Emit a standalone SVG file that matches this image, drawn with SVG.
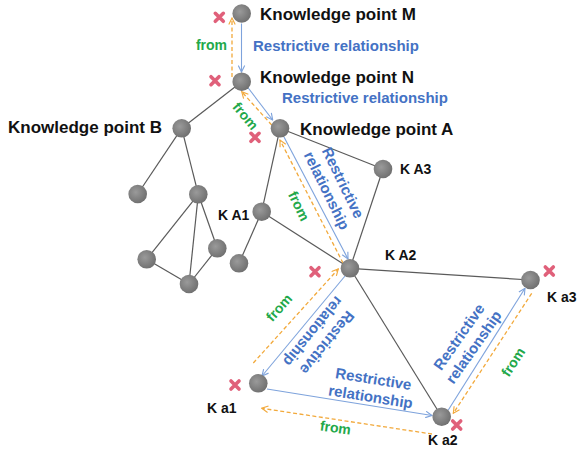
<svg xmlns="http://www.w3.org/2000/svg" width="581" height="450" viewBox="0 0 581 450">
<defs>
<radialGradient id="g" cx="0.4" cy="0.4" r="0.65">
<stop offset="0" stop-color="#9a9a9a"/>
<stop offset="1" stop-color="#6e6e6e"/>
</radialGradient>
<marker id="ab" viewBox="0 0 10 10" refX="9" refY="5" markerWidth="8" markerHeight="8" markerUnits="userSpaceOnUse" orient="auto">
<path d="M1,1 L9,5 L1,9" fill="none" stroke="#7ea3dc" stroke-width="1.4"/>
</marker>
<marker id="ao" viewBox="0 0 10 10" refX="9" refY="5" markerWidth="8" markerHeight="8" markerUnits="userSpaceOnUse" orient="auto">
<path d="M1,1 L9,5 L1,9" fill="none" stroke="#f2a93b" stroke-width="1.4"/>
</marker>
<g id="x">
<path d="M-4,-4 L4,4 M4,-4 L-4,4" stroke="#e0607a" stroke-width="3.6" stroke-linecap="round"/>
</g>
</defs>
<style>
.e{stroke:#5a5a5a;stroke-width:1.2;fill:none}
.b{stroke:#7ea3dc;stroke-width:1.1;fill:none;marker-end:url(#ab)}
.o{stroke:#f2a93b;stroke-width:1.3;fill:none;stroke-dasharray:4 2.5;marker-end:url(#ao)}
.n{fill:url(#g)}
.k{font-family:"Liberation Sans",Arial,sans-serif;font-weight:bold;font-size:17px;fill:#111}
.s{font-family:"Liberation Sans",Arial,sans-serif;font-weight:bold;font-size:14px;fill:#111}
.r{font-family:"Liberation Sans",Arial,sans-serif;font-weight:bold;font-size:15px;fill:#4472c4}
.f{font-family:"Liberation Sans",Arial,sans-serif;font-weight:bold;font-size:14px;fill:#22a84a}
</style>
<rect width="581" height="450" fill="#fff"/>
<g id="connectors">
<line class="e" x1="241.7" y1="81.7" x2="181.7" y2="128.3"/>
<line class="e" x1="181.7" y1="128.3" x2="137.7" y2="194"/>
<line class="e" x1="181.7" y1="128.3" x2="198.3" y2="194.3"/>
<line class="e" x1="198.3" y1="194.3" x2="146.7" y2="259.3"/>
<line class="e" x1="198.3" y1="194.3" x2="189" y2="284"/>
<line class="e" x1="198.3" y1="194.3" x2="217.3" y2="248.3"/>
<line class="e" x1="146.7" y1="259.3" x2="189" y2="284"/>
<line class="e" x1="217.3" y1="248.3" x2="189" y2="284"/>
<line class="e" x1="280" y1="128.3" x2="261.7" y2="211.7"/>
<line class="e" x1="261.7" y1="211.7" x2="239" y2="263.3"/>
<line class="e" x1="280" y1="128.3" x2="383" y2="169"/>
<line class="e" x1="383" y1="169" x2="350" y2="268.3"/>
<line class="e" x1="261.7" y1="211.7" x2="350" y2="268.3"/>
<line class="e" x1="350" y1="268.3" x2="530.5" y2="280"/>
<line class="e" x1="350" y1="268.3" x2="441.7" y2="416.7"/>
<line class="b" x1="241.5" y1="23.5" x2="241.5" y2="72"/>
<line class="o" x1="232" y1="77" x2="232" y2="18"/>
<line class="b" x1="246.7" y1="86" x2="272.7" y2="120"/>
<line class="o" x1="271.7" y1="125" x2="241.7" y2="91.7"/>
<line class="b" x1="284" y1="137" x2="348" y2="259"/>
<line class="o" x1="343" y1="263" x2="280" y2="140"/>
<line class="b" x1="345" y1="276" x2="262" y2="376"/>
<line class="o" x1="253.3" y1="363" x2="338.3" y2="269"/>
<line class="b" x1="267" y1="389" x2="432" y2="415.5"/>
<line class="o" x1="432" y1="434" x2="261.7" y2="408.3"/>
<line class="b" x1="448.3" y1="410" x2="525" y2="288.3"/>
<line class="o" x1="531.7" y1="293.3" x2="453.3" y2="413.3"/>
</g>
<g id="nodeM"><circle class="n" cx="241.7" cy="13.5" r="9.3"/><text class="k" x="260" y="19.5">Knowledge point M</text></g>
<g id="nodeN"><circle class="n" cx="241.7" cy="81.7" r="9.3"/><text class="k" x="260" y="83">Knowledge point N</text></g>
<g id="nodeA"><circle class="n" cx="280" cy="128.3" r="9.3"/><text class="k" x="300" y="134.5">Knowledge point A</text></g>
<g id="nodeB"><circle class="n" cx="181.7" cy="128.3" r="9.3"/><text class="k" x="8" y="133">Knowledge point B</text></g>
<g id="nodeB1"><circle class="n" cx="137.7" cy="194" r="9.3"/></g>
<g id="nodeB2"><circle class="n" cx="198.3" cy="194.3" r="9.3"/></g>
<g id="nodeB3"><circle class="n" cx="146.7" cy="259.3" r="9.3"/></g>
<g id="nodeB4"><circle class="n" cx="217.3" cy="248.3" r="9.3"/></g>
<g id="nodeB5"><circle class="n" cx="189" cy="284" r="9.3"/></g>
<g id="nodeA1"><circle class="n" cx="261.7" cy="211.7" r="9.3"/><text class="s" x="218" y="220">K A1</text></g>
<g id="nodeA1c"><circle class="n" cx="239" cy="263.3" r="9.3"/></g>
<g id="nodeA3"><circle class="n" cx="383" cy="169" r="9.3"/><text class="s" x="400" y="174">K A3</text></g>
<g id="nodeA2"><circle class="n" cx="350" cy="268.3" r="9.3"/><text class="s" x="385" y="260">K A2</text></g>
<g id="nodea3"><circle class="n" cx="530.5" cy="280" r="9.3"/><text class="s" x="547" y="302">K a3</text></g>
<g id="nodea1"><circle class="n" cx="258.3" cy="383.3" r="9.3"/><text class="s" x="207" y="413">K a1</text></g>
<g id="nodea2"><circle class="n" cx="441.7" cy="416.7" r="9.3"/><text class="s" x="428" y="445">K a2</text></g>
<g id="marks">
<use href="#x" x="219.3" y="17.3"/>
<use href="#x" x="215" y="80.7"/>
<use href="#x" x="255" y="137.3"/>
<use href="#x" x="315" y="271.7"/>
<use href="#x" x="235" y="385"/>
<use href="#x" x="456.7" y="425"/>
<use href="#x" x="549.3" y="271"/>
</g>
<g id="labels">
<text class="f" x="227" y="50" text-anchor="end">from</text>
<text class="r" x="253" y="50.5">Restrictive relationship</text>
<text class="r" x="282" y="103">Restrictive relationship</text>
<text class="f" text-anchor="middle" transform="translate(245.5,116) rotate(50)" y="5">from</text>
<text class="r" text-anchor="middle" transform="translate(334.7,186.7) rotate(64)"><tspan x="0" y="-4">Restrictive</tspan><tspan x="0" y="14">relationship</tspan></text>
<text class="f" text-anchor="middle" transform="translate(299,206) rotate(64)" y="5">from</text>
<text class="f" text-anchor="middle" transform="translate(279,307.5) rotate(-48)" y="5">from</text>
<text class="r" text-anchor="middle" transform="translate(320,337) rotate(129)"><tspan x="0" y="-4">Restrictive</tspan><tspan x="0" y="14">relationship</tspan></text>
<text class="r" text-anchor="middle" transform="translate(372,388) rotate(9)"><tspan x="0" y="-4">Restrictive</tspan><tspan x="0" y="14">relationship</tspan></text>
<text class="f" text-anchor="middle" transform="translate(335.5,427.5) rotate(8)" y="5">from</text>
<text class="r" text-anchor="middle" transform="translate(466.5,342) rotate(-55)"><tspan x="0" y="-4">Restrictive</tspan><tspan x="0" y="14">relationship</tspan></text>
<text class="f" text-anchor="middle" transform="translate(513,362) rotate(-57)" y="5">from</text>
</g>
</svg>
